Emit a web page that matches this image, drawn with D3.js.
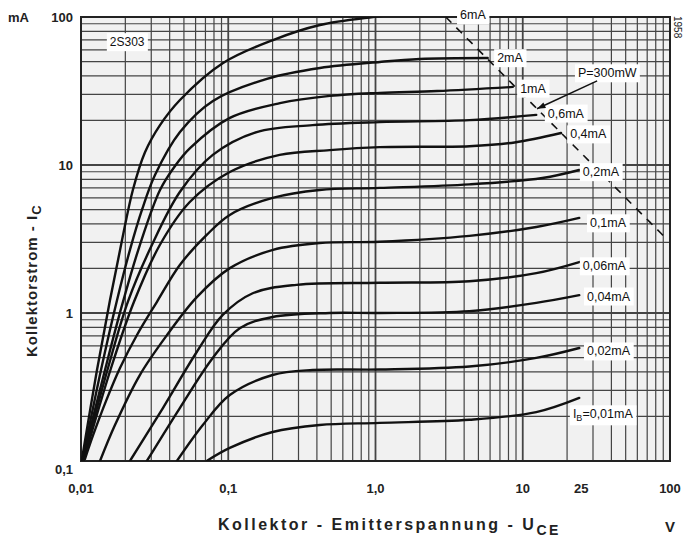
<!DOCTYPE html>
<html>
<head>
<meta charset="utf-8">
<script src="https://cdn.jsdelivr.net/npm/d3@7"></script>
<style>
  body { margin: 0; background: #fff; }
  svg { display: block; font-family: "Liberation Sans", Arial, sans-serif; }
</style>
</head>
<body>
<svg id="chart"></svg>
<script>
const baseCurrents = ["6mA", "2mA", "1mA", "0,6mA", "0,4mA", "0,2mA", "0,1mA", "0,06mA", "0,04mA", "0,02mA", "0,01mA"];

const curve6 = [[0.0101,0.1],[0.01284,0.412],[0.01573,1.22],[0.019,3.11],[0.0225,6.78],[0.0272,12.2],[0.0344,18.6],[0.047,27.5],[0.0922,48.9],[0.2013,69.9],[0.4195,88.3],[0.96,100],[1.4,104]];
const curve2 = [[0.0102,0.1],[0.01367,0.412],[0.01756,1.22],[0.0215,2.67],[0.02594,4.97],[0.0318,8.55],[0.047,16.7],[0.0787,27.1],[0.1832,38.2],[0.4195,45.2],[1.07,49.7],[1.998,52.0],[5.78,52.8]];
const curve1 = [[0.0102,0.1],[0.01455,0.412],[0.019,1.13],[0.0251,2.88],[0.0344,6.78],[0.0435,9.85],[0.055,13.0],[0.1026,20.8],[0.2245,26.2],[0.49,29.3],[1.07,30.7],[2.62,31.6],[8.56,33.7]];
const curve06 = [[0.0103,0.1],[0.01525,0.425],[0.0208,1.19],[0.0303,2.88],[0.0469,6.57],[0.0785,11.7],[0.156,16.7],[0.374,18.6],[1.064,19.5],[4.34,20.1],[12.35,21.8]];
const curve04 = [[0.0104,0.1],[0.016,0.425],[0.0229,1.19],[0.0343,2.88],[0.0548,5.62],[0.1024,8.97],[0.2235,11.7],[0.488,12.6],[1.064,13.2],[4.34,13.4],[8.8,14.2],[18.2,16.45]];
const curve02 = [[0.01065,0.1035],[0.0121,0.15],[0.0148,0.255],[0.0184,0.425],[0.024,0.71],[0.0328,1.19],[0.0469,2.11],[0.0714,3.37],[0.1024,4.6],[0.2,5.99],[0.417,6.78],[1.064,7.0],[4.34,7.4],[13.6,8.17],[24.2,9.25]];
const curve01 = [[0.01346,0.1],[0.01701,0.175],[0.0251,0.381],[0.0384,0.71],[0.0612,1.28],[0.1026,2.01],[0.2013,2.67],[0.417,2.97],[1.064,3.03],[4.34,3.32],[12.35,3.81],[24.2,4.39]];
const curve006 = [[0.0215,0.1],[0.036,0.228],[0.0611,0.545],[0.0918,0.97],[0.1466,1.36],[0.291,1.55],[1.064,1.6],[4.34,1.64],[12.35,1.86],[24.2,2.21]];
const curve004 = [[0.028,0.1],[0.0469,0.228],[0.0785,0.497],[0.1197,0.79],[0.2,0.94],[0.488,1.0],[1.064,1.0],[4.34,1.03],[12.35,1.17],[24.2,1.32]];
const curve002 = [[0.0448,0.1],[0.0672,0.175],[0.1024,0.279],[0.2,0.381],[0.374,0.412],[1.064,0.415],[4.34,0.435],[12.35,0.497],[24.2,0.58]];
const curve001 = [[0.0714,0.1],[0.1024,0.1225],[0.2,0.157],[0.417,0.175],[1.064,0.181],[4.34,0.19],[12.35,0.214],[24.2,0.267]];
const curves = [curve6, curve2, curve1, curve06, curve04, curve02, curve01, curve006, curve004, curve002, curve001];

// Lage der Beschriftungen in Achsenwerten [U_CE, I_C]
const labelAt = [[3.75,103],[6.7,53],[9.6,33],[14.8,22.4],[21,16.2],[25.6,9],[28.6,4.06],[25.6,2.08],[27.3,1.3],[27.3,0.553],[21.9,0.208]];

// Verlustleistungshyperbel
const pMax = 300; // mW
const pRange = [3, 95];
const pLabelAt = [23.7, 41.9];
const pArrowFrom = [32, 37];
const pArrowTo = 12.5;

const typeLabel = "2S303";
const typeLabelAt = [0.0157, 67.8];

const xTicks = [0.01, 0.1, 1, 10, 25, 100];
const xTickLabels = ["0,01", "0,1", "1,0", "10", "25", "100"];
const yTicks = [0.1, 1, 10, 100];
const yTickLabels = ["0,1", "1", "10", "100"];
const xDecades = [0.01, 0.1, 1, 10];
const yDecades = [0.1, 1, 10];

const width = 685, height = 544;
const margin = { top: 17, right: 15, bottom: 83, left: 81 };

const svg = d3.select("#chart")
    .attr("width", width)
    .attr("height", height)
    .attr("viewBox", [0, 0, width, height]);

const x = d3.scaleLog().domain([0.01, 100]).range([margin.left, width - margin.right]);
const y = d3.scaleLog().domain([0.1, 100]).range([height - margin.bottom, margin.top]);

svg.append("rect")
    .attr("x", x(0.01)).attr("y", y(100))
    .attr("width", x(100) - x(0.01)).attr("height", y(0.1) - y(100))
    .attr("fill", "#f1f1f1");

svg.append("defs").append("clipPath").attr("id", "plot")
  .append("rect")
    .attr("x", x(0.01)).attr("y", y(100))
    .attr("width", x(100) - x(0.01)).attr("height", y(0.1) - y(100));

// log grid
const xGrid = xDecades.flatMap(d => d3.range(1, 10).map(k => k * d)).concat([100]);
const yGrid = yDecades.flatMap(d => d3.range(1, 10).map(k => k * d)).concat([100]);
const isDecade = v => Math.abs(Math.log10(v) - Math.round(Math.log10(v))) < 1e-6;

svg.append("g")
  .selectAll("line")
  .data(xGrid)
  .join("line")
    .attr("x1", d => x(d)).attr("x2", d => x(d))
    .attr("y1", y(0.1)).attr("y2", y(100))
    .attr("stroke", "#444")
    .attr("stroke-width", d => isDecade(d) ? 1.8 : 1.2);

svg.append("g")
  .selectAll("line")
  .data(yGrid)
  .join("line")
    .attr("y1", d => y(d)).attr("y2", d => y(d))
    .attr("x1", x(0.01)).attr("x2", x(100))
    .attr("stroke", "#444")
    .attr("stroke-width", d => isDecade(d) ? 1.8 : 1.2);

svg.append("rect")
    .attr("x", x(0.01)).attr("y", y(100))
    .attr("width", x(100) - x(0.01)).attr("height", y(0.1) - y(100))
    .attr("fill", "none").attr("stroke", "#222").attr("stroke-width", 2);

// power hyperbola
const pData = d3.range(0, 41).map(i => pRange[0] * Math.pow(pRange[1] / pRange[0], i / 40));
svg.append("path")
    .datum(pData)
    .attr("clip-path", "url(#plot)")
    .attr("fill", "none")
    .attr("stroke", "#111")
    .attr("stroke-width", 1.6)
    .attr("stroke-dasharray", "8,7")
    .attr("d", d3.line().x(d => x(d)).y(d => y(pMax / d)));

const line = d3.line()
    .x(d => x(d[0]))
    .y(d => y(d[1]))
    .curve(d3.curveCatmullRom.alpha(0.5));

svg.append("g")
    .attr("clip-path", "url(#plot)")
  .selectAll("path")
  .data(curves)
  .join("path")
    .attr("fill", "none")
    .attr("stroke", "#111")
    .attr("stroke-width", 2.4)
    .attr("stroke-linecap", "round")
    .attr("d", line);

// labels with white knock-out
function boxedLabel(g, px, py, build, size) {
  const lg = g.append("g");
  const bg = lg.append("rect").attr("fill", "#fff");
  const t = lg.append("text")
      .attr("x", px).attr("y", py)
      .attr("dy", "0.35em")
      .attr("font-size", size)
      .attr("fill", "#111");
  build(t);
  const bb = t.node().getBBox();
  bg.attr("x", bb.x - 3).attr("y", bb.y - 2).attr("width", bb.width + 6).attr("height", bb.height + 4);
  return lg;
}

const labels = svg.append("g");
baseCurrents.forEach((name, i) => {
  const [u, ic] = labelAt[i];
  boxedLabel(labels, x(u), y(ic), t => {
    if (i === baseCurrents.length - 1) {
      t.append("tspan").text("I");
      t.append("tspan").attr("font-size", 9).attr("dy", "3").text("B");
      t.append("tspan").attr("dy", "-3").text("=" + name);
    } else {
      t.text(name);
    }
  }, 12.5);
});

boxedLabel(labels, x(pLabelAt[0]), y(pLabelAt[1]), t => t.text("P=" + pMax + "mW"), 12.5);
boxedLabel(labels, x(typeLabelAt[0]), y(typeLabelAt[1]), t => t.text(typeLabel), 12);

// arrow to hyperbola
const ax1 = x(pArrowFrom[0]), ay1 = y(pArrowFrom[1]);
const ax2 = x(pArrowTo), ay2 = y(pMax / pArrowTo);
svg.append("line")
    .attr("x1", ax1).attr("y1", ay1).attr("x2", ax2).attr("y2", ay2)
    .attr("stroke", "#111").attr("stroke-width", 1.5);
const ang = Math.atan2(ay2 - ay1, ax2 - ax1);
svg.append("path")
    .attr("d", `M${ax2},${ay2} L${ax2 - 9 * Math.cos(ang - 0.35)},${ay2 - 9 * Math.sin(ang - 0.35)} L${ax2 - 9 * Math.cos(ang + 0.35)},${ay2 - 9 * Math.sin(ang + 0.35)} Z`)
    .attr("fill", "#111");

// tick labels
svg.append("g")
  .selectAll("text")
  .data(xTicks)
  .join("text")
    .attr("x", d => x(d))
    .attr("y", y(0.1) + 32)
    .attr("text-anchor", "middle")
    .attr("font-size", 13)
    .attr("font-weight", "bold")
    .attr("fill", "#222")
    .text((d, i) => xTickLabels[i]);

svg.append("g")
  .selectAll("text")
  .data(yTicks)
  .join("text")
    .attr("x", x(0.01) - 8)
    .attr("y", d => y(d) + (d === 0.1 ? 8 : 0))
    .attr("dy", "0.35em")
    .attr("text-anchor", "end")
    .attr("font-size", 13)
    .attr("font-weight", "bold")
    .attr("fill", "#222")
    .text((d, i) => yTickLabels[i]);

svg.append("text")
    .attr("x", 8).attr("y", y(100))
    .attr("dy", "0.35em")
    .attr("font-size", 13)
    .attr("font-weight", "bold")
    .attr("fill", "#222")
    .text("mA");

// axis titles
const xt = svg.append("text")
    .attr("x", 218).attr("y", 530)
    .attr("font-size", 16)
    .attr("font-weight", "bold")
    .attr("letter-spacing", 2.5)
    .attr("fill", "#222");
xt.append("tspan").text("Kollektor - Emitterspannung - U");
xt.append("tspan").attr("font-size", 14).attr("dy", 5).text("CE");

svg.append("text")
    .attr("x", 665).attr("y", 532)
    .attr("font-size", 15)
    .attr("font-weight", "bold")
    .attr("fill", "#222")
    .text("V");

const yt = svg.append("text")
    .attr("transform", `translate(37,${y(1) + 44}) rotate(-90)`)
    .attr("font-size", 15)
    .attr("font-weight", "bold")
    .attr("letter-spacing", 1)
    .attr("fill", "#222");
yt.append("tspan").text("Kollektorstrom - I");
yt.append("tspan").attr("font-size", 13).attr("dy", 4).text("C");

svg.append("text")
    .attr("transform", `translate(674,16) rotate(90)`)
    .attr("font-size", 10)
    .attr("fill", "#222")
    .text("1958");
</script>
</body>
</html>
